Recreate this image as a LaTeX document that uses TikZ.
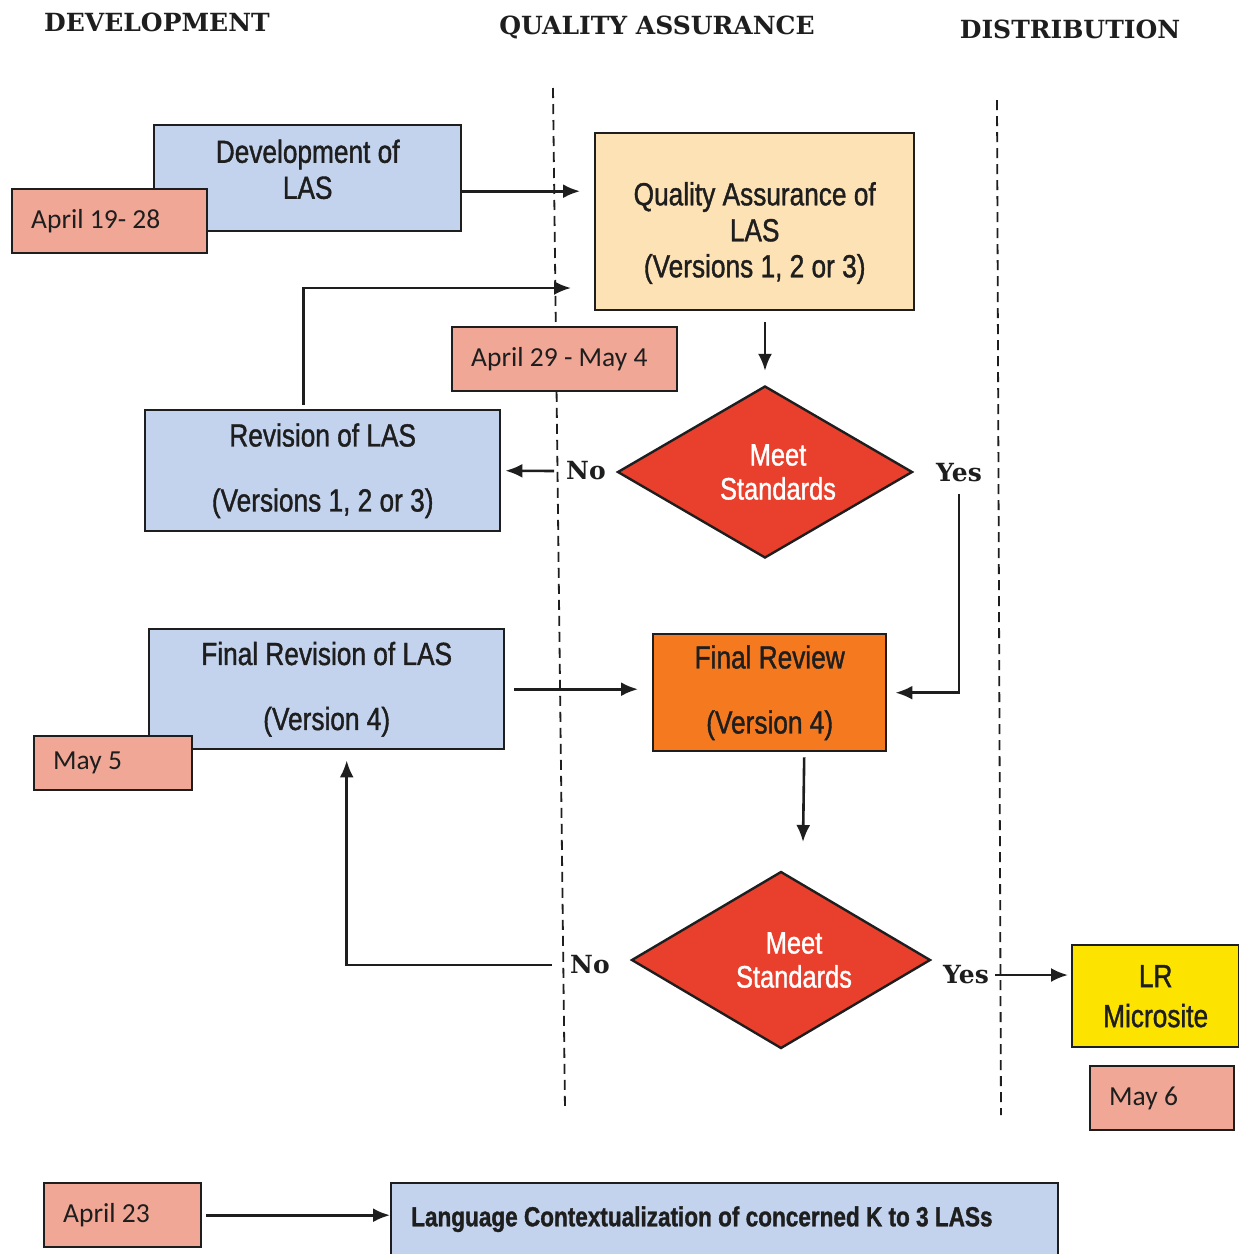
\documentclass[tikz,border=0pt]{standalone}
\usepackage{fontspec}
\setmainfont{Liberation Sans}
\newfontfamily\narrowfont[FakeStretch=0.82,FakeBold=1.2]{Liberation Sans}
\newfontfamily\datefont{Carlito}
\newfontfamily\headfont{DejaVu Serif}
\usetikzlibrary{shapes.geometric,arrows.meta}
\definecolor{boxblue}{HTML}{C3D3EE}
\definecolor{qapeach}{HTML}{FCE2B4}
\definecolor{salmon}{HTML}{F0A796}
\definecolor{redd}{HTML}{E8402D}
\definecolor{orng}{HTML}{F57A1F}
\definecolor{yell}{HTML}{FDE400}
\definecolor{ink}{HTML}{1E1E1E}
\tikzset{
  box/.style={draw=ink, line width=2.4pt, anchor=north west, align=center, inner sep=0pt,
    font=\narrowfont\fontsize{32}{36}\selectfont, text=ink},
  datebox/.style={draw=ink, line width=2.4pt, fill=salmon, anchor=north west, inner xsep=19pt,
    inner ysep=0pt, align=flush left, font=\datefont\fontsize{27.5}{30}\selectfont, text=ink},
  dec/.style={diamond, draw=ink, line width=2.4pt, fill=redd, aspect=1.7, inner sep=0pt,
    text=white, align=center, font=\narrowfont\fontsize{31}{34}\selectfont},
  lab/.style={font=\headfont\bfseries\fontsize{25}{29}\selectfont, text=ink, inner sep=0pt},
  arr/.style={-{Latex[length=17pt,width=14pt]}, line width=2.6pt, draw=ink},
  lane/.style={dash pattern=on 10pt off 6pt, line width=1.8pt, draw=ink}
}
\begin{document}
\begin{tikzpicture}[x=1pt,y=-1pt]
\fill[white] (0,0) rectangle (1239,1254);
\useasboundingbox (0,0) rectangle (1239,1254);

% lanes
\draw[lane] (553,88) -- (565,1110);
\draw[lane] (997,100) -- (1001,1115);

% headers
\node[lab] (h1) at (157,22) {DEVELOPMENT};
\node[lab] (h2) at (657,27) {QUALITY ASSURANCE};
\node[lab] (h3) at (1070,29) {DISTRIBUTION};

% boxes
\node[box, fill=boxblue, minimum width=307, minimum height=106] (dev) at (153,124) {Development of\\LAS\\[-18pt]};
\node[datebox, minimum width=195, minimum height=64, text width=157] (d1) at (11,188) {April 19- 28};
\node[box, fill=qapeach, minimum width=319, minimum height=177] (qa) at (594,132) {Quality Assurance of\\LAS\\(Versions 1, 2 or 3)\\[-52pt]};
\node[datebox, minimum width=225, minimum height=64, text width=187] (d2) at (451,326) {April 29 - May 4};
\node[box, fill=boxblue, minimum width=355, minimum height=121] (rev) at (144,409) {Revision of LAS\\[29pt](Versions 1, 2 or 3)};
\node[dec, minimum width=295, minimum height=172] (dia1) at (765,472) {\hspace*{26pt}Meet\\\hspace*{26pt}Standards};
\node[box, fill=boxblue, minimum width=355, minimum height=120] (frev) at (148,628) {Final Revision of LAS\\[29pt](Version 4)};
\node[datebox, minimum width=158, minimum height=54, text width=120] (d3) at (33,735) {May 5};
\node[box, fill=orng, minimum width=233, minimum height=117] (frvw) at (652,633) {Final Review\\[29pt](Version 4)};
\node[dec, minimum width=299, minimum height=177] (dia2) at (781,960) {\hspace*{26pt}Meet\\\hspace*{26pt}Standards};
\node[box, fill=yell, minimum width=167, minimum height=102] (lr) at (1071,944) {LR\\[4pt]Microsite};
\node[datebox, minimum width=144, minimum height=64, text width=106] (d4) at (1089,1065) {May 6};
\node[datebox, minimum width=157, minimum height=64, text width=119] (d5) at (43,1182) {April 23};
\node[box, fill=boxblue, minimum width=667, minimum height=72, text width=627, align=flush left,
  font=\narrowfont\bfseries\fontsize{27.5}{30}\selectfont] (lang) at (390,1182) {Language Contextualization of concerned K to 3 LASs\\[-12pt]};

% decision labels
\node[lab] (no1) at (586,471) {No};
\node[lab] (yes1) at (959,473) {Yes};
\node[lab] (no2) at (590,965) {No};
\node[lab] (yes2) at (966,975) {Yes};

\coordinate (loopend) at (571,288);
\coordinate (fin) at (803,842);

% connectors
\draw[arr] ([yshift=-13pt]dev.east) -- ([yshift=-13pt,xshift=-14pt]dev.east -| qa.west);
\draw[arr] ([yshift=-11pt]qa.south -| dia1.north) -- ([yshift=14pt]dia1.north);
\draw[arr] ([xshift=-19pt,yshift=4pt]rev.north) |- (loopend);
\draw[arr] ([xshift=-12pt]no1.west) -- ([xshift=4pt]rev.east);
\draw[arr] ([yshift=-12pt]yes1.south) |- ([xshift=8pt]frvw.east);
\draw[arr] ([xshift=9pt]frev.east) -- ([xshift=-14pt]frev.east -| frvw.west);
\draw[arr] ([xshift=34.5pt,yshift=-5pt]frvw.south) -- (fin);
\draw[arr] ([xshift=-18pt]no2.west) -| ([xshift=20pt,yshift=-10pt]frev.south);
\draw[arr] ([xshift=6pt]yes2.east) -- ([xshift=-3pt]yes2.east -| lr.west);
\draw[arr] ([xshift=4pt]d5.east) -- (d5.east -| lang.west);
\end{tikzpicture}
\end{document}
